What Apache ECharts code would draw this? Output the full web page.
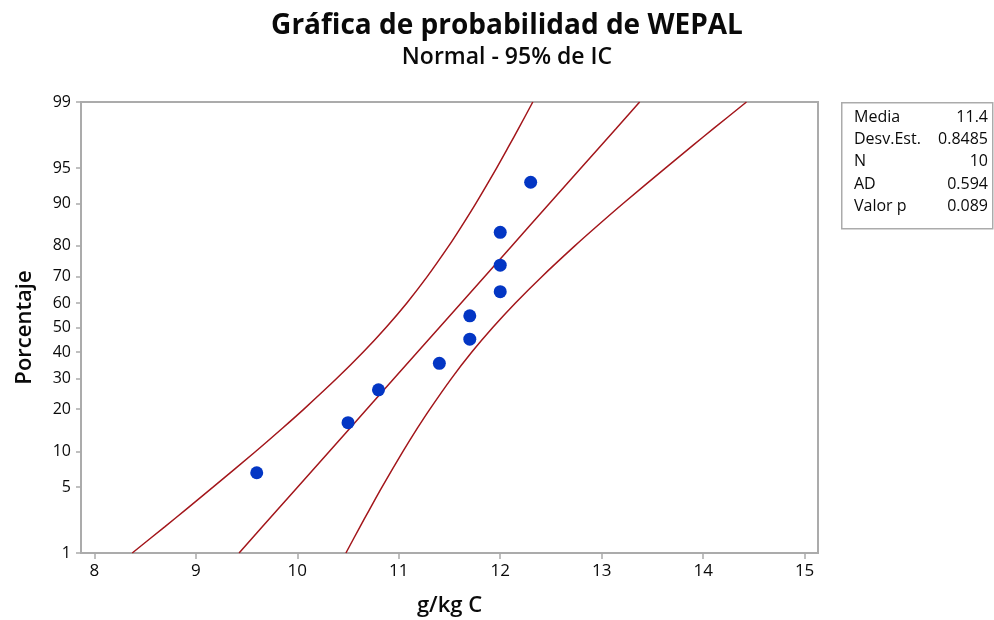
<!DOCTYPE html>
<html>
<head>
<meta charset="utf-8">
<script src="https://cdn.jsdelivr.net/npm/echarts@6/dist/echarts.min.js"></script>
<style>html,body{margin:0;padding:0;background:#fff}#c{width:994px;height:620px}</style>
</head>
<body>
<div id="c"></div>
<script>
// ---- data ----
const dataX = [9.6, 10.5, 10.8, 11.4, 11.7, 11.7, 12.0, 12.0, 12.0, 12.3];
const dataPct = [6.7, 16.3, 26.0, 35.6, 45.2, 54.8, 64.4, 74.0, 83.7, 93.3];

const curvePct = [1, 2, 3, 5, 10, 15, 20, 30, 40, 50, 60, 70, 80, 85, 90, 95, 97, 98, 99];
const fitX   = [9.426, 9.657, 9.804, 10.004, 10.313, 10.521, 10.686, 10.955, 11.185, 11.400, 11.615, 11.845, 12.114, 12.279, 12.487, 12.796, 12.996, 13.143, 13.374];
const lowerX = [8.373, 8.696, 8.898, 9.172, 9.586, 9.856, 10.065, 10.390, 10.650, 10.874, 11.080, 11.280, 11.493, 11.614, 11.760, 11.964, 12.090, 12.181, 12.321];
const upperX = [10.479, 10.619, 10.710, 10.836, 11.040, 11.185, 11.307, 11.520, 11.720, 11.926, 12.150, 12.410, 12.735, 12.944, 13.214, 13.628, 13.902, 14.104, 14.427];

const yTickPct = [1, 5, 10, 20, 30, 40, 50, 60, 70, 80, 90, 95, 99];
const xTicks = [8, 9, 10, 11, 12, 13, 14, 15];

const statLabels = ['Media', 'Desv.Est.', 'N', 'AD', 'Valor p'];
const statValues = ['11.4', '0.8485', '10', '0.594', '0.089'];

const titleText = 'Gráfica de probabilidad de WEPAL';
const subtitleText = 'Normal - 95% de IC';
const xName = 'g/kg C';
const yName = 'Porcentaje';

// ---- normal probability scale (inverse normal CDF, Acklam) ----
function probit(p) {
  const a = [-3.969683028665376e+01, 2.209460984245205e+02, -2.759285104469687e+02, 1.383577518672690e+02, -3.066479806614716e+01, 2.506628277459239e+00];
  const b = [-5.447609879822406e+01, 1.615858368580409e+02, -1.556989798598866e+02, 6.680131188771972e+01, -1.328068155288572e+01];
  const c = [-7.784894002430293e-03, -3.223964580411365e-01, -2.400758277161838e+00, -2.549732539343734e+00, 4.374664141464968e+00, 2.938163982698783e+00];
  const d = [7.784695709041462e-03, 3.224671290700398e-01, 2.445134137142996e+00, 3.754408661907416e+00];
  const pl = 0.02425, ph = 1 - pl;
  let q, r;
  if (p < pl) {
    q = Math.sqrt(-2 * Math.log(p));
    return (((((c[0]*q+c[1])*q+c[2])*q+c[3])*q+c[4])*q+c[5]) / ((((d[0]*q+d[1])*q+d[2])*q+d[3])*q+1);
  } else if (p <= ph) {
    q = p - 0.5; r = q * q;
    return (((((a[0]*r+a[1])*r+a[2])*r+a[3])*r+a[4])*r+a[5])*q / (((((b[0]*r+b[1])*r+b[2])*r+b[3])*r+b[4])*r+1);
  } else {
    q = Math.sqrt(-2 * Math.log(1 - p));
    return -(((((c[0]*q+c[1])*q+c[2])*q+c[3])*q+c[4])*q+c[5]) / ((((d[0]*q+d[1])*q+d[2])*q+d[3])*q+1);
  }
}
const zOf = pct => probit(pct / 100);
const yTickZ = yTickPct.map(zOf);

const FONT = '"Open Sans", "Noto Sans", sans-serif';
const RED = '#A3161B';
const BLUE = '#0336C4';
const GRAY = '#ababab';
const INK = '#0a0a0a';

const mkCurve = xs => xs.map((x, i) => [x, zOf(curvePct[i])]);

const chart = echarts.init(document.getElementById('c'), null, { renderer: 'canvas' });

const legendLeft = 841, legendTop = 102, rowH = 22.4;
const graphicEls = [{
  type: 'rect', left: legendLeft, top: legendTop,
  shape: { width: 151, height: 126 },
  style: { fill: '#fff', stroke: GRAY, lineWidth: 1.5 }
}];
statLabels.forEach((lab, i) => {
  graphicEls.push({
    type: 'text', left: 854, top: legendTop + 7 + i * rowH,
    style: { text: lab, font: '500 16px ' + FONT, fill: INK }
  });
  graphicEls.push({
    type: 'text', right: 994 - 988, top: legendTop + 7 + i * rowH,
    style: { text: statValues[i], font: '500 16px ' + FONT, fill: INK, textAlign: 'right' }
  });
});

chart.setOption({
  animation: false,
  backgroundColor: '#fff',
  title: [{
    text: titleText, left: 502, top: 7, textAlign: 'center',
    textStyle: { fontFamily: FONT, fontSize: 28, fontWeight: 'bold', color: INK }
  }, {
    text: subtitleText, left: 502, top: 41, textAlign: 'center',
    textStyle: { fontFamily: FONT, fontSize: 23, fontWeight: 600, color: INK }
  }],
  grid: {
    left: 81, right: 176, top: 102, bottom: 67,
    outerBoundsMode: 'none', containLabel: false,
    show: true, borderColor: GRAY, borderWidth: 2, backgroundColor: '#fff'
  },
  xAxis: {
    type: 'value', min: 7.868, max: 15.132,
    name: xName, nameLocation: 'middle', nameGap: 42,
    nameTextStyle: { fontFamily: FONT, fontSize: 22, fontWeight: 600, color: INK },
    axisLine: { show: false, onZero: false },
    splitLine: { show: false },
    axisTick: { show: true, inside: false, length: 6, customValues: xTicks, lineStyle: { color: GRAY, width: 1.5 } },
    axisLabel: { customValues: xTicks, fontFamily: FONT, fontSize: 17, fontWeight: 500, color: INK, margin: 10 }
  },
  yAxis: {
    type: 'value', min: zOf(1), max: zOf(99),
    name: yName, nameLocation: 'middle', nameGap: 45, nameRotate: 90,
    nameTextStyle: { fontFamily: FONT, fontSize: 22, fontWeight: 600, color: INK },
    axisLine: { show: false, onZero: false },
    splitLine: { show: false },
    axisTick: { show: true, inside: false, length: 5, customValues: yTickZ, lineStyle: { color: GRAY, width: 1.5 } },
    axisLabel: {
      customValues: yTickZ, fontFamily: FONT, fontSize: 16, fontWeight: 500, color: INK, margin: 10,
      formatter: v => {
        let best = yTickPct[0], bd = Infinity;
        yTickPct.forEach((p, i) => { const dd = Math.abs(yTickZ[i] - v); if (dd < bd) { bd = dd; best = p; } });
        return String(best);
      }
    }
  },
  series: [
    { type: 'line', data: mkCurve(lowerX), smooth: 0.3, symbol: 'none', lineStyle: { color: RED, width: 1.5 }, z: 2 },
    { type: 'line', data: mkCurve(fitX), smooth: false, symbol: 'none', lineStyle: { color: RED, width: 1.5 }, z: 2 },
    { type: 'line', data: mkCurve(upperX), smooth: 0.3, symbol: 'none', lineStyle: { color: RED, width: 1.5 }, z: 2 },
    {
      type: 'scatter', data: dataX.map((x, i) => [x, zOf(dataPct[i])]),
      symbol: 'circle', symbolSize: 13, itemStyle: { color: BLUE, opacity: 1 }, z: 3
    }
  ],
  graphic: graphicEls
});
</script>
</body>
</html>
